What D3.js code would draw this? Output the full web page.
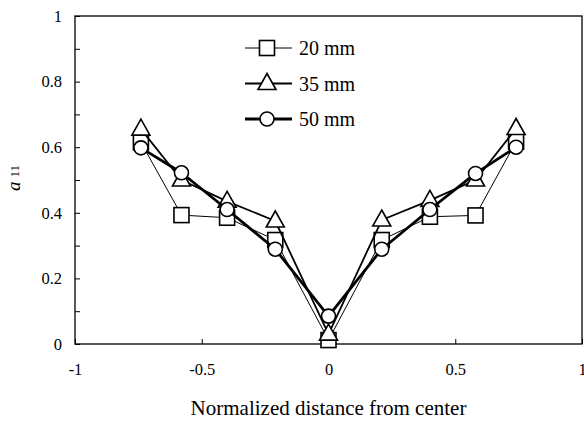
<!DOCTYPE html>
<html>
<head>
<meta charset="utf-8">
<script src="https://cdn.jsdelivr.net/npm/d3@7"></script>
<style>
  body { margin: 0; background: #fff; }
</style>
</head>
<body>
<svg id="chart"></svg>
<script>
const svg = d3.select("#chart").attr("width", 584).attr("height", 421);
const serif = '"Liberation Serif"';

// Data
const positions = [-0.74, -0.58, -0.4, -0.21, 0, 0.21, 0.4, 0.58, 0.74];
const series20 = [0.615, 0.393, 0.385, 0.317, 0.012, 0.317, 0.388, 0.392, 0.617];
const series35 = [0.655, 0.50, 0.435, 0.375, 0.03, 0.378, 0.438, 0.50, 0.657];
const series50 = [0.598, 0.522, 0.41, 0.289, 0.085, 0.289, 0.41, 0.52, 0.60];
const seriesNames = ["20 mm", "35 mm", "50 mm"];
const xTickValues = [-1, -0.5, 0, 0.5, 1];
const yTickValues = [0, 0.2, 0.4, 0.6, 0.8, 1];
const yMinorTicks = [0.1, 0.3, 0.5, 0.7, 0.9];

const plotLeft = 75, plotRight = 582, plotTop = 16, plotBottom = 344;

const x = d3.scaleLinear().domain([-1, 1]).range([plotLeft, plotRight]);
const y = d3.scaleLinear().domain([0, 1]).range([plotBottom, plotTop]);

/* -------------------------
   FRAME + AXES
-------------------------- */
svg.append("rect")
  .attr("x", plotLeft).attr("y", plotTop)
  .attr("width", plotRight - plotLeft).attr("height", plotBottom - plotTop)
  .attr("fill", "none").attr("stroke", "#000").attr("stroke-width", 1.3);

const xAxis = svg.append("g")
  .attr("transform", `translate(0,${plotBottom})`)
  .call(d3.axisBottom(x).tickValues(xTickValues).tickSizeInner(-5).tickSizeOuter(0).tickPadding(19)
    .tickFormat(d => String(d)));
xAxis.select(".domain").remove();
xAxis.selectAll("text").attr("font-size", 16.5).attr("fill", "#000").style("font-family", serif);
xAxis.selectAll("line").attr("stroke", "#000");

const yAxis = svg.append("g")
  .attr("transform", `translate(${plotLeft},0)`)
  .call(d3.axisLeft(y).tickValues(yTickValues).tickSizeInner(-5).tickSizeOuter(0).tickPadding(13)
    .tickFormat(d => String(d)));
yAxis.select(".domain").remove();
yAxis.selectAll("text").attr("font-size", 16.5).attr("fill", "#000").style("font-family", serif);
yAxis.selectAll("line").attr("stroke", "#000");

const yMinor = svg.append("g")
  .attr("transform", `translate(${plotLeft},0)`)
  .call(d3.axisLeft(y).tickValues(yMinorTicks).tickSizeInner(-5).tickSizeOuter(0).tickFormat(""));
yMinor.select(".domain").remove();
yMinor.selectAll("line").attr("stroke", "#000");

// axis titles
svg.append("text")
  .attr("x", x(0)).attr("y", 415)
  .attr("text-anchor", "middle")
  .style("font-family", serif)
  .attr("font-size", 21)
  .text("Normalized distance from center");

const yTitle = svg.append("text")
  .attr("transform", `translate(20,178) rotate(-90)`)
  .attr("text-anchor", "middle")
  .style("font-family", serif)
  .attr("font-size", 19);
yTitle.append("tspan").attr("font-style", "italic").text("a");
yTitle.append("tspan").attr("font-size", 13).attr("dx", 4).attr("dy", -1).text("11");

/* -------------------------
   SERIES
-------------------------- */
const series = [
  { name: seriesNames[0], values: series20, width: 1, shape: "square" },
  { name: seriesNames[1], values: series35, width: 1.8, shape: "triangle" },
  { name: seriesNames[2], values: series50, width: 2.8, shape: "circle" }
];

const line = d3.line().x(d => x(d[0])).y(d => y(d[1]));

function drawMarker(g, shape, cx, cy) {
  if (shape === "square") {
    g.append("rect")
      .attr("x", cx - 7.5).attr("y", cy - 7.5)
      .attr("width", 15).attr("height", 15)
      .attr("fill", "#fff").attr("stroke", "#000").attr("stroke-width", 1.6);
  } else if (shape === "triangle") {
    g.append("path")
      .attr("d", `M${cx},${cy - 10} L${cx + 9},${cy + 6} L${cx - 9},${cy + 6} Z`)
      .attr("fill", "#fff").attr("stroke", "#000").attr("stroke-width", 1.6)
      .attr("stroke-linejoin", "miter");
  } else {
    g.append("circle")
      .attr("cx", cx).attr("cy", cy).attr("r", 7)
      .attr("fill", "#fff").attr("stroke", "#000").attr("stroke-width", 1.6);
  }
}

series.forEach(s => {
  const pts = positions.map((p, i) => [p, s.values[i]]);
  const g = svg.append("g");
  g.append("path")
    .attr("d", line(pts))
    .attr("fill", "none").attr("stroke", "#000")
    .attr("stroke-width", s.width).attr("stroke-linejoin", "round");
  pts.forEach(d => drawMarker(g, s.shape, x(d[0]), y(d[1])));
});

/* -------------------------
   LEGEND
-------------------------- */
series.forEach((s, i) => {
  const ly = 48 + i * 35.5;
  const g = svg.append("g");
  g.append("line")
    .attr("x1", 245).attr("x2", 292).attr("y1", ly).attr("y2", ly)
    .attr("stroke", "#000").attr("stroke-width", s.width);
  drawMarker(g, s.shape, 267, ly);
  g.append("text")
    .attr("x", 299).attr("y", ly + 7)
    .style("font-family", serif)
    .attr("font-size", 20)
    .text(s.name);
});
</script>
</body>
</html>
